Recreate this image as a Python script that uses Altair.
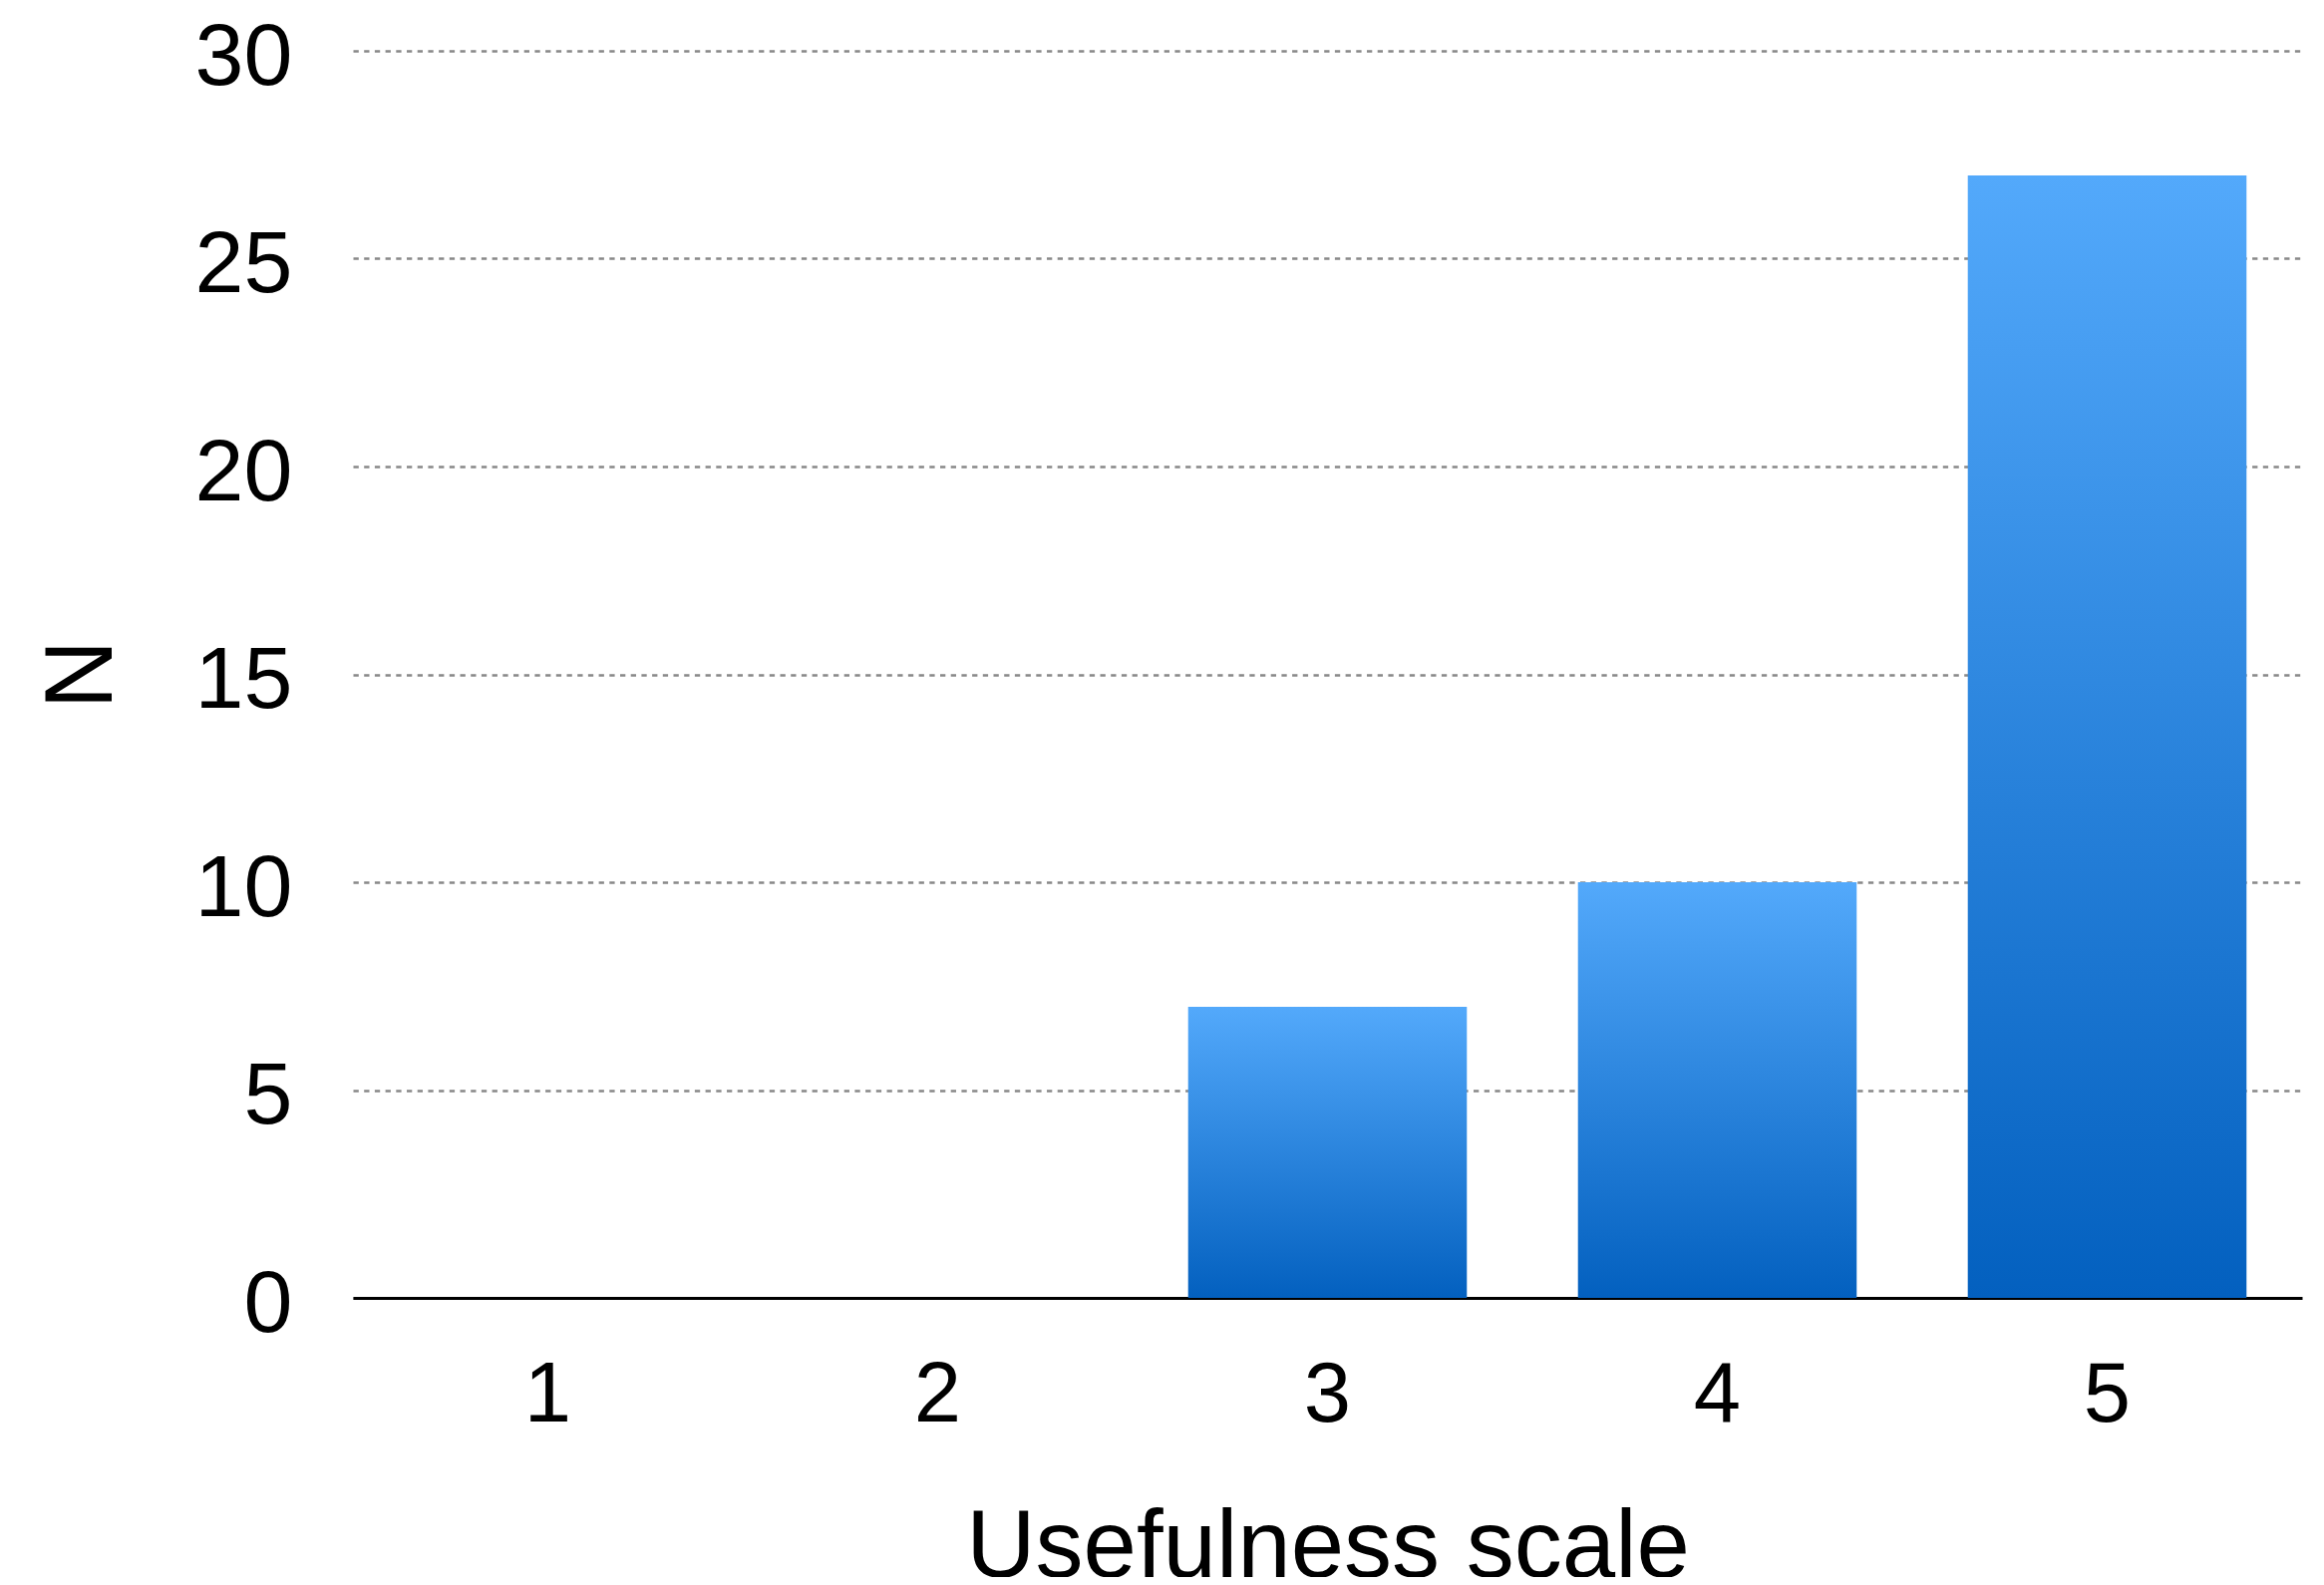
import altair as alt
import pandas as pd

categories = ["1", "2", "3", "4", "5"]
counts = [0, 0, 7, 10, 27]
y_ticks = [0, 5, 10, 15, 20, 25, 30]

df = pd.DataFrame({"scale": categories, "N": counts})

FONT = "Liberation Sans"

grad = alt.Gradient(
    gradient="linear",
    stops=[
        alt.GradientStop(color="#53A9FB", offset=0),
        alt.GradientStop(color="#0360BF", offset=1),
    ],
    x1=0, x2=0, y1=0, y2=1,
)

chart = (
    alt.Chart(df)
    .mark_bar(color=grad)
    .encode(
        x=alt.X(
            "scale:N",
            sort=categories,
            scale=alt.Scale(paddingInner=0.285, paddingOuter=0.1425),
            axis=alt.Axis(
                title="Usefulness scale",
                labelAngle=0,
                labelFont=FONT,
                labelFontSize=85,
                labelColor="black",
                labelPadding=56,
                ticks=False,
                tickSize=0,
                grid=False,
                domain=True,
                domainColor="black",
                domainWidth=3,
                titleFont=FONT,
                titleFontSize=96,
                titleFontWeight="normal",
                titleColor="black",
                titleY=279,
                titleBaseline="alphabetic",
            ),
        ),
        y=alt.Y(
            "N:Q",
            scale=alt.Scale(domain=[0, 30], nice=False),
            axis=alt.Axis(
                title="N",
                values=y_ticks,
                labelFont=FONT,
                labelFontSize=88,
                labelColor="black",
                labelPadding=61,
                labelBaseline="alphabetic",
                labelOffset=33,
                ticks=False,
                tickSize=0,
                domain=False,
                grid=True,
                gridColor="#888888",
                gridWidth=2.5,
                gridDash=[5.3, 5.4],
                titleFont=FONT,
                titleFontSize=96,
                titleFontWeight="normal",
                titleColor="black",
                titleAngle=270,
                titleX=-272,
                titleY=625,
                titleAlign="center",
                titleBaseline="middle",
            ),
        ),
    )
    .properties(
        width=1955,
        height=1251,
        background="white",
        autosize=alt.AutoSizeParams(type="none"),
        padding={"left": 346, "top": 43, "right": 14, "bottom": 280},
    )
    .configure_view(strokeWidth=0, stroke="transparent")
)

chart.save("out.html", embed_options={"renderer": "svg", "actions": False})
